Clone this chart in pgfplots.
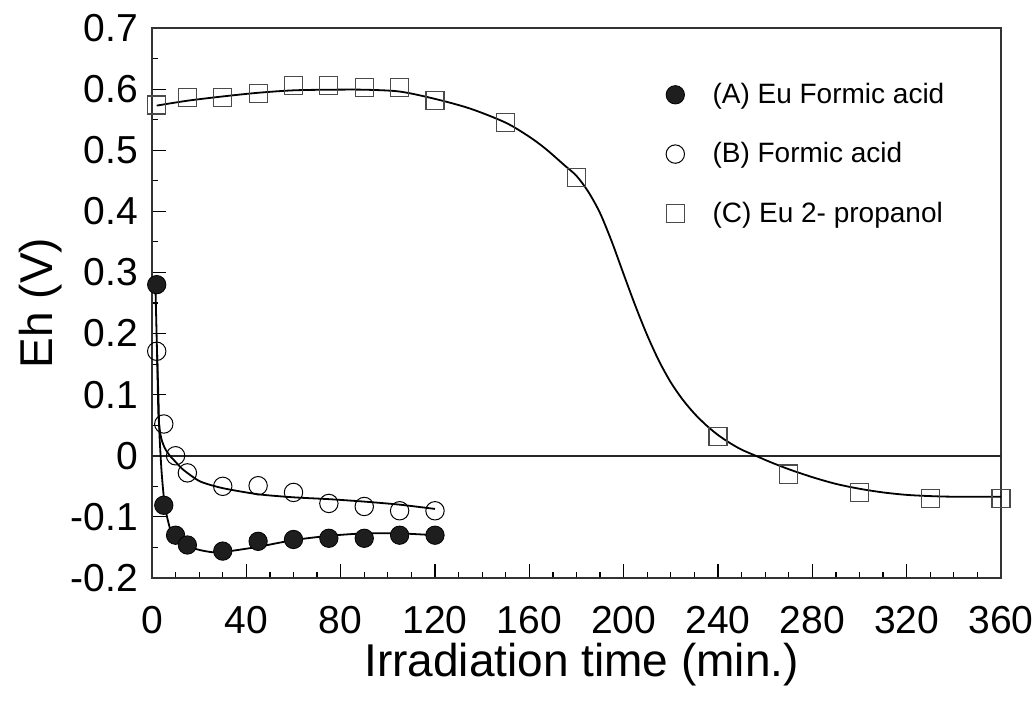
\documentclass[border=0pt]{standalone}
\usepackage{pgfplots}
\pgfplotsset{compat=1.18}
\usepackage{fontspec}
\setmainfont{Liberation Sans}
\definecolor{markfill}{HTML}{1E1E1E}
\definecolor{sqedge}{HTML}{4A4A4A}
\begin{document}
\begin{tikzpicture}
\begin{axis}[
  scale only axis,
  width=424.5pt, height=275pt,
  xmin=0, xmax=360, ymin=-0.2, ymax=0.7,
  xtick={0,40,...,360},
  xticklabels={0,40,80,120,160,200,240,280,320,360},
  minor x tick num=3,
  ytick={-0.2,-0.1,0,0.1,0.2,0.3,0.4,0.5,0.6,0.7},
  yticklabels={-0.2,-0.1,0,0.1,0.2,0.3,0.4,0.5,0.6,0.7},
  minor y tick num=1,
  tick align=inside,
  xtick pos=bottom, ytick pos=left,
  major tick length=7pt, minor tick length=3pt,
  tick style={black, line width=0.6pt},
  axis line style={black!80, line width=0.9pt},
  /pgf/number format/assume math mode=true,
  ticklabel style={font=\fontsize{19.5}{23}\selectfont},
  yticklabel style={anchor=east, xshift=-3.5pt},
  xticklabel style={anchor=north, yshift=-10.5pt},
  xlabel={Irradiation time (min.)},
  ylabel={Eh (V)},
  label style={font=\fontsize{23}{27}\selectfont},
  xlabel style={at={(axis description cs:0.506,-0.105)}, anchor=north},
  ylabel style={at={(axis description cs:-0.098,0.5)}, anchor=south},
  legend style={draw=none, fill=none, at={(axis description cs:0.598,0.915)}, anchor=north west,
    font=\fontsize{14}{17}\selectfont, row sep=14pt,
    /tikz/every even column/.append style={column sep=4pt},
    /tikz/every odd column/.append style={column sep=12pt}},
  legend cell align=left,
]
\addlegendimage{only marks, mark=*, mark size=4.6pt, draw=black, fill=markfill}
\addlegendentry{(A) Eu Formic acid}
\addlegendimage{only marks, mark=o, mark size=4.6pt, draw=black, line width=0.5pt}
\addlegendentry{(B) Formic acid}
\addlegendimage{only marks, mark=square, mark size=4.5pt, draw=sqedge, line width=0.6pt}
\addlegendentry{(C) Eu 2- propanol}

% zero line
\addplot[forget plot, black!85, line width=1pt] coordinates {(0,0) (360,0)};

% fitted curves
\addplot[forget plot, black, line width=0.9pt, smooth, tension=0.4] coordinates {
(1.5,0.27) (2.2,0.16) (2.7,0.10) (3.1,0.04) (4.1,-0.028) (5.5,-0.083) (8.3,-0.126)
(13.3,-0.143) (19,-0.153) (26,-0.158) (33,-0.156) (45,-0.149) (60,-0.138)
(75,-0.131) (90,-0.127) (105,-0.127) (120,-0.13)};
\addplot[forget plot, black, line width=0.9pt, smooth, tension=0.4] coordinates {
(2.2,0.165) (2.7,0.07) (3.3,0.042) (4.1,0.026) (5.5,0.012) (7.6,0) (10,-0.01)
(13.3,-0.023) (20.4,-0.042) (30,-0.053) (45,-0.063) (60,-0.068) (75,-0.071)
(90,-0.075) (105,-0.08) (120,-0.087)};
\addplot[forget plot, black, line width=0.9pt, smooth, tension=0.5] coordinates {
(2,0.573) (15,0.581) (30,0.588) (45,0.594) (60,0.598) (75,0.599) (90,0.599)
(105,0.596) (120,0.584) (135,0.568) (150,0.545) (160,0.522) (167,0.502)
(175,0.475) (180,0.458) (185,0.432) (190,0.397) (195,0.350) (200,0.297)
(205,0.245) (210,0.197) (215,0.155) (220,0.120) (225,0.092) (230,0.069)
(235,0.050) (240,0.034) (245,0.021) (250,0.010) (256,0) (262,-0.010)
(270,-0.022) (280,-0.035) (290,-0.046) (300,-0.054) (310,-0.060)
(320,-0.064) (330,-0.066) (340,-0.067) (360,-0.067)};

% data
\addplot[forget plot, only marks, mark=*, mark size=4.6pt, draw=black, fill=markfill] coordinates {
(2,0.28) (5,-0.081) (10,-0.13) (15,-0.146) (30,-0.156) (45,-0.14) (60,-0.137)
(75,-0.135) (90,-0.135) (105,-0.13) (120,-0.13)};
\addplot[forget plot, only marks, mark=o, mark size=4.6pt, draw=black, line width=0.5pt] coordinates {
(2,0.171) (5,0.052) (10,0) (15,-0.028) (30,-0.05) (45,-0.049) (60,-0.06)
(75,-0.078) (90,-0.083) (105,-0.09) (120,-0.09)};
\addplot[forget plot, only marks, mark=square, mark size=4.5pt, draw=sqedge, line width=0.6pt] coordinates {
(2,0.574) (15,0.586) (30,0.586) (45,0.593) (60,0.606) (75,0.606) (90,0.603)
(105,0.603) (120,0.582) (150,0.545) (180,0.455) (240,0.031) (270,-0.03)
(300,-0.06) (330,-0.07) (360,-0.07)};

\coordinate (ll) at (rel axis cs:0,0);
\coordinate (ur) at (rel axis cs:1,1);
\end{axis}
\pgfresetboundingbox
\useasboundingbox ([xshift=-76pt,yshift=-61.5pt]ll) rectangle ([xshift=17.5pt,yshift=14pt]ur);
\end{tikzpicture}
\end{document}
